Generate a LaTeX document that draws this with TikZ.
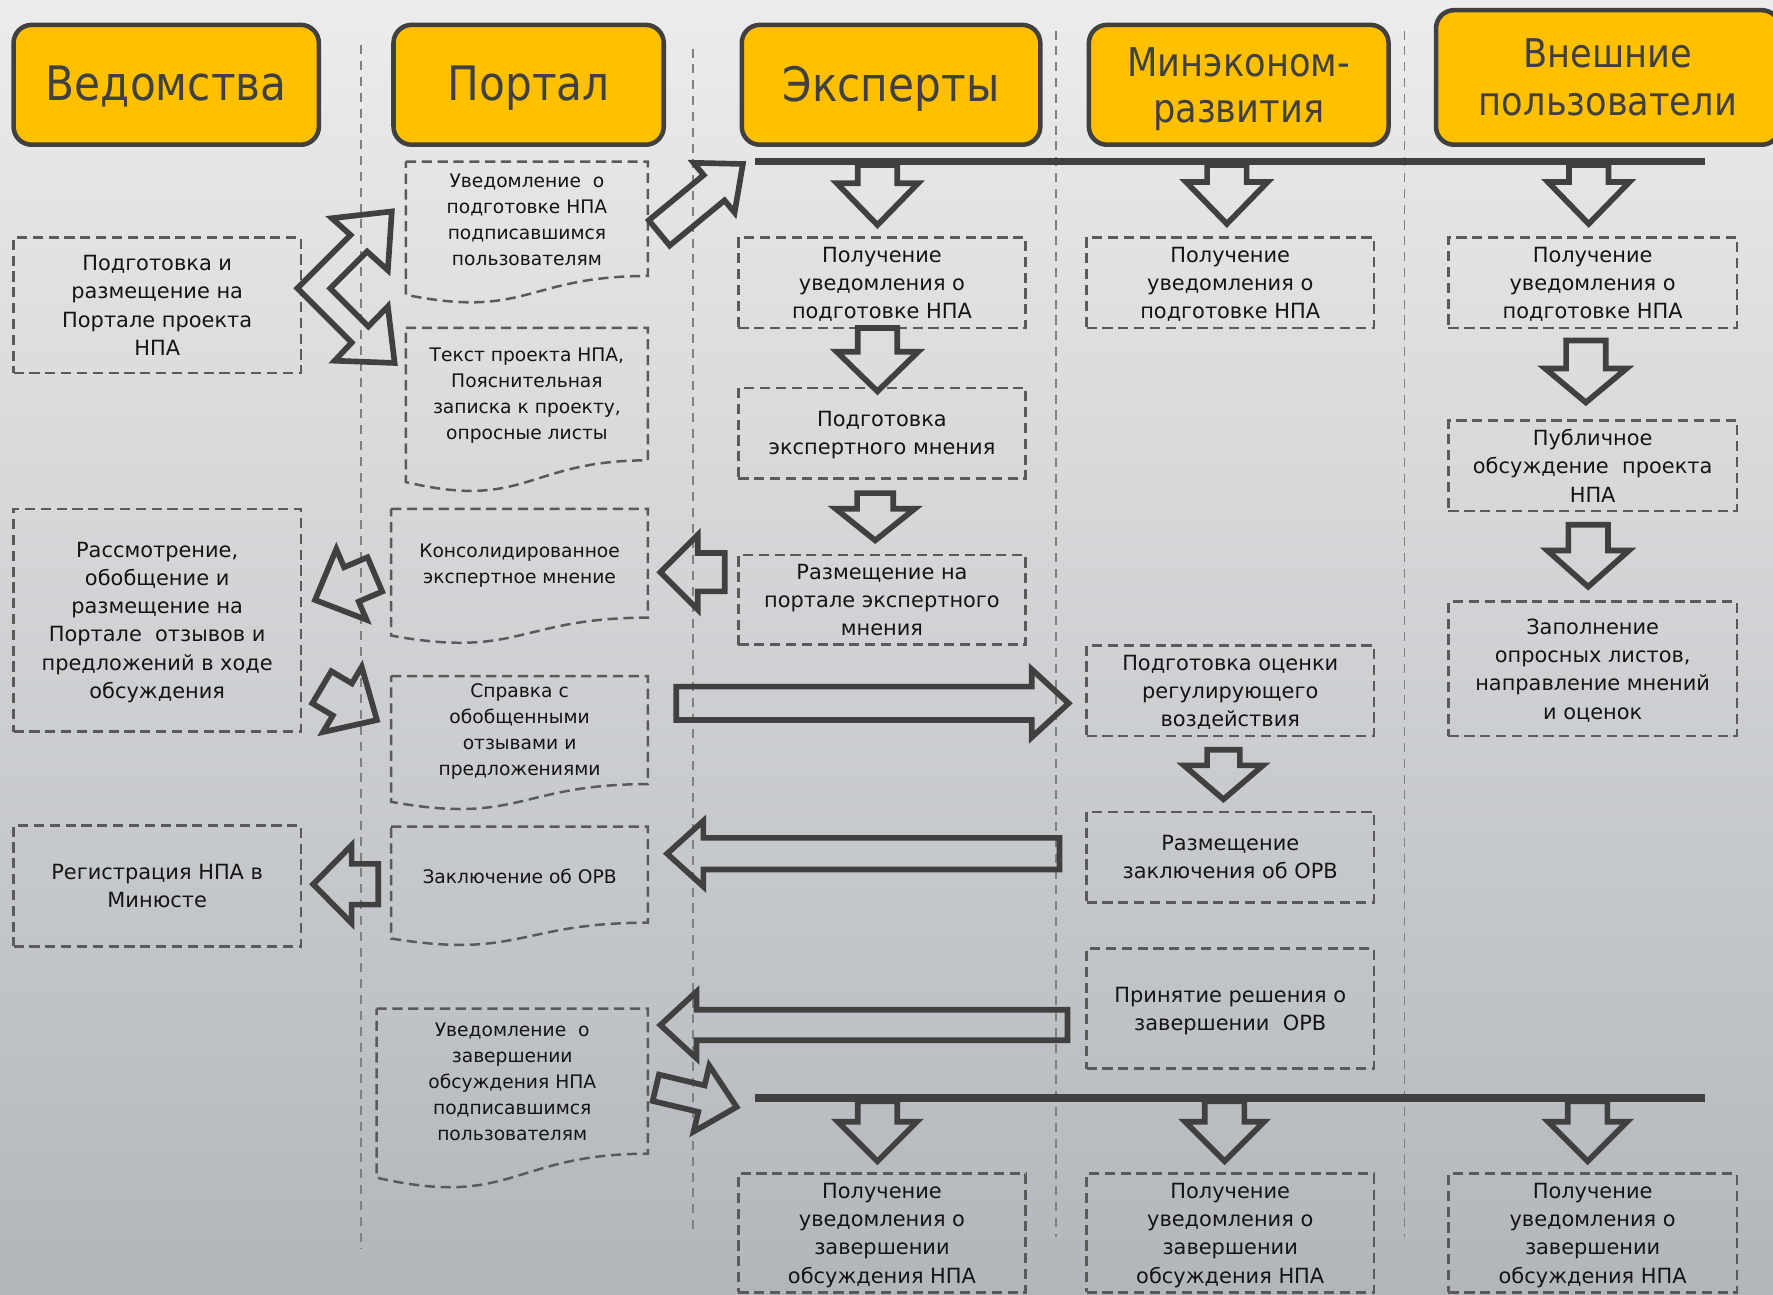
\documentclass[tikz,border=0pt]{standalone}
\usepackage{fontspec}
\setmainfont{DejaVu Sans}
\newfontfamily\hdrfont[FakeStretch=0.89]{DejaVu Sans}
\usetikzlibrary{calc}
\definecolor{bgtop}{RGB}{236,236,236}
\definecolor{bgmid}{RGB}{226,227,229}
\definecolor{bgbot}{RGB}{178,182,187}
\definecolor{hdrfill}{RGB}{255,192,0}
\definecolor{darkc}{RGB}{64,64,64}
\definecolor{boxc}{RGB}{90,90,90}
\definecolor{lanec}{RGB}{128,128,128}
\definecolor{txtc}{RGB}{20,20,20}
\tikzset{
 hdr/.style={draw=darkc, fill=hdrfill, line width=2pt, rounded corners=8pt, inner sep=0pt, align=center, text=darkc, minimum height=53pt},
 hdrone/.style={hdr, font=\hdrfont\fontsize{21}{25}\selectfont, text depth=1.2pt},
 hdrtwo/.style={hdr, font=\hdrfont\fontsize{17.5}{21.5}\selectfont},
 hdrtwob/.style={hdr, font=\hdrfont\fontsize{17.5}{20.5}\selectfont, text depth=0pt},
 pbox/.style={draw=boxc, line width=1.1pt, dash pattern=on 4.5pt off 2.5pt, inner sep=0pt, align=center, text=txtc, font=\fontsize{9.25}{12.5}\selectfont, minimum width=127pt, minimum height=40pt, text depth=0pt},
 doctext/.style={inner sep=0pt, align=center, text=txtc, font=\fontsize{8.25}{11.5}\selectfont},
 docline/.style={draw=boxc, line width=1.1pt, dash pattern=on 4.5pt off 2.5pt},
 lane/.style={draw=lanec, line width=0.75pt, dash pattern=on 4pt off 3pt},
 bar/.style={draw=darkc, line width=3.3pt},
 blockarr/.style={draw=darkc, line width=2.5pt, line join=miter, miter limit=10},
}
% block arrow: #1 start, #2 tip, #3 shaft width, #4 head width, #5 head length (picture units)
\newcommand\barr[5]{%
 \path let \p1=#1, \p2=#2 in \pgfextra{%
   \pgfmathsetmacro\baangtmp{atan2(\y2-\y1,\x2-\x1)}%
   \pgfmathsetmacro\balentmp{veclen(\x2-\x1,\y2-\y1)}%
   \xdef\baang{\baangtmp}\xdef\balen{\balentmp}\xdef\bax{\x1}\xdef\bay{\y1}};
 \begin{scope}[shift={(\bax,\bay)},rotate=\baang,x=1pt,y=1pt]
  \draw[blockarr] (0,{-#3/4}) -- ({\balen-#5/2},{-#3/4}) -- ({\balen-#5/2},{-#4/4}) -- (\balen,0)
    -- ({\balen-#5/2},{#4/4}) -- ({\balen-#5/2},{#3/4}) -- (0,{#3/4}) -- cycle;
 \end{scope}}
% document shape: #1 left, #2 top, #3 right, #4 height
\newcommand\docshape[4]{%
 \draw[docline] (#1,#2) -- (#3,#2) -- (#3,{#2+0.802*#4})
   .. controls ({(#1+#3)/2},{#2+0.802*#4}) and ({(#1+#3)/2},{#2+1.107*#4}) .. (#1,{#2+0.934*#4}) -- cycle;}
\begin{document}
\begin{tikzpicture}[x=0.5pt,y=-0.5pt]
\useasboundingbox (0,0) rectangle (1568,1145);
\shade[top color=bgtop, middle color=bgmid, bottom color=bgbot] (0,0) rectangle (1568,1145);

% lane separators
\draw[lane] (319,40) -- (319,1105);
\draw[lane] (613,43) -- (613,1091);
\draw[lane] (934,27) -- (934,1094);
\draw[lane] (1242,27) -- (1242,1094);

% headers
\node[hdrone, minimum width=135pt] (h1) at (147,75) {Ведомства};
\node[hdrone, minimum width=119.5pt] (h2) at (467.5,75) {Портал};
\node[hdrone, minimum width=132pt] (h3) at (788,75) {Эксперты};
\node[hdrtwob, minimum width=132.5pt] (h4) at (1095.5,75) {Минэконом-\\развития};
\node[hdrtwo, minimum width=152pt, minimum height=59.5pt] (h5) at (1422,68.5) {Внешние\\пользователи};

% bars
\coordinate (tbl) at (668,143); \coordinate (tbr) at (1508,143);
\coordinate (bbl) at (668,971); \coordinate (bbr) at (1508,971);
\draw[bar] (tbl) -- (tbr);
\draw[bar] (bbl) -- (bbr);

% Ведомства
\node[pbox, minimum height=60pt] (v1) at (139,270) {Подготовка и\\размещение на\\Портале проекта\\НПА};
\node[pbox, minimum height=98.5pt] (v2) at (139,548.5) {Рассмотрение,\\обобщение и\\размещение на\\Портале\ \ отзывов и\\предложений в ходе\\обсуждения};
\node[pbox, minimum height=53.5pt] (v3) at (139,783.5) {Регистрация НПА в\\Минюсте};

% Портал documents
\docshape{359}{143}{573}{126}
\node[doctext] (p1) at (466,194.5) {Уведомление\ \ о\\подготовке НПА\\подписавшимся\\пользователям};
\docshape{359}{290}{573}{146}
\node[doctext] (p2) at (466,350) {Текст проекта НПА,\\Пояснительная\\записка к проекту,\\опросные листы};
\docshape{346}{450}{573}{120}
\node[doctext] (p3) at (459.5,500) {Консолидированное\\экспертное мнение};
\docshape{346}{598}{573}{119}
\node[doctext] (p4) at (459.5,646.5) {Справка с\\обобщенными\\отзывами и\\предложениями};
\docshape{346}{731}{573}{106}
\node[doctext] (p5) at (459.5,775) {Заключение об ОРВ};
\docshape{333}{892}{573}{160}
\node[doctext] (p6) at (453,957) {Уведомление\ \ о\\завершении\\обсуждения НПА\\подписавшимся\\пользователям};

% Эксперты
\node[pbox] (e1) at (780,250) {Получение\\уведомления о\\подготовке НПА};
\node[pbox] (e2) at (780,383) {Подготовка\\экспертного мнения};
\node[pbox, minimum height=39.5pt] (e3) at (780,530.5) {Размещение на\\портале экспертного\\мнения};
\node[pbox, minimum height=52.5pt] (e4) at (780,1090.5) {Получение\\уведомления о\\завершении\\обсуждения НПА};

% Минэкономразвития
\node[pbox] (m1) at (1088,250) {Получение\\уведомления о\\подготовке НПА};
\node[pbox] (m2) at (1088,611) {Подготовка оценки\\регулирующего\\воздействия};
\node[pbox] (m3) at (1088,758) {Размещение\\заключения об ОРВ};
\node[pbox, minimum height=53pt] (m4) at (1088,892) {Принятие решения о\\завершении\ \ ОРВ};
\node[pbox, minimum height=52.5pt] (m5) at (1088,1090.5) {Получение\\уведомления о\\завершении\\обсуждения НПА};

% Внешние пользователи
\node[pbox, minimum width=127.5pt] (x1) at (1408.5,250) {Получение\\уведомления о\\подготовке НПА};
\node[pbox, minimum width=127.5pt] (x2) at (1408.5,412) {Публичное\\обсуждение\ \ проекта\\НПА};
\node[pbox, minimum width=127.5pt, minimum height=59.5pt] (x3) at (1408.5,591.5) {Заполнение\\опросных листов,\\направление мнений\\и оценок};
\node[pbox, minimum width=127.5pt, minimum height=52.5pt] (x4) at (1408.5,1090.5) {Получение\\уведомления о\\завершении\\обсуждения НПА};

% chevron double arrow v1 -> p1, p2
\draw[blockarr] (263,255) -- (310.1,207.9) -- (293.5,193) -- (346.5,187) -- (343,239) -- (324.6,222.4)
  -- (292,255) -- (325.75,288.75) -- (343,271) -- (349,321) -- (296,319) -- (311,303) -- cycle;

% p1 -> top bar
\barr{(583,206)}{(657,145)}{29}{57}{33}
% down arrows from top bar
\barr{(776,146)}{(776,199)}{35}{72}{37}
\barr{(1085,146)}{(1085,198)}{35}{72}{37}
\barr{(1405,146)}{(1405,198)}{35}{72}{37}
% Эксперты chain
\barr{($(e1.south)+(-4,-1)$)}{($(e1.south)+(-4,55)$)}{35}{72}{35}
\barr{($(e2.south)+(-6,12)$)}{($(e3.north)+(-6,-12)$)}{32}{70}{28}
% Минэк chain
\barr{($(m2.south)+(-6,11)$)}{($(m3.north)+(-6,-10)$)}{29}{70}{30}
% Внешние chain
\barr{($(x1.south)+(-6,10)$)}{($(x2.north)+(-6,-15)$)}{35}{72}{30}
\barr{($(x2.south)+(-4,11)$)}{($(x3.north)+(-4,-12)$)}{35}{72}{32}
% e3 -> p3
\barr{(641,506)}{(584,506)}{34}{66}{33}
% p3 -> v2
\barr{(331.5,508)}{(278.6,530.6)}{33}{68}{35}
% v2 -> p4
\barr{(284.6,607.8)}{(333.4,636.8)}{33}{67}{35.6}
% p4 -> m2
\barr{(598,622)}{(945,622)}{29.5}{60}{32.5}
% m3 -> p5
\barr{(937,755)}{(590,755)}{28}{58}{32}
% m4 -> p6
\barr{(944,906.5)}{(584,906.5)}{27}{59}{32}
% p6 -> bottom bar
\barr{(580,962)}{(651.5,979)}{24}{60}{32}
% p5 -> v3
\barr{(334.5,782)}{(277,782)}{36}{69}{34}
% down arrows from bottom bar
\barr{(776,974)}{(776,1027)}{35}{70}{35}
\barr{(1083,974)}{(1083,1027)}{35}{70}{35}
\barr{(1404,974)}{(1404,1027)}{35}{70}{35}
\end{tikzpicture}
\end{document}
